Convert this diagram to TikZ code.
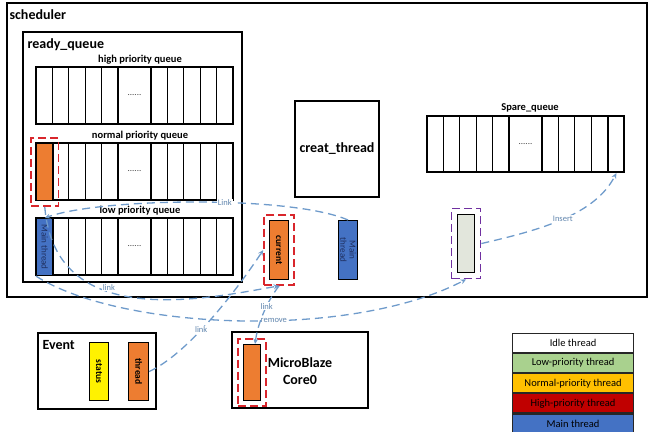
\documentclass[tikz,border=0pt]{standalone}
\usepackage{fontspec,graphicx}
\setmainfont{Carlito}
\usetikzlibrary{arrows.meta,positioning,fit}
\definecolor{threadorange}{HTML}{ED7D31}
\definecolor{mainblue}{HTML}{4472C4}
\definecolor{navytext}{HTML}{1F2F5F}
\definecolor{idlegrey}{HTML}{E2E6DC}
\definecolor{framered}{HTML}{D9262C}
\definecolor{framepurple}{HTML}{7030A0}
\definecolor{linkblue}{HTML}{6F9BCB}
\definecolor{labelblue}{HTML}{6186AE}
\definecolor{lowgreen}{HTML}{A9D18E}
\definecolor{normalgold}{HTML}{FFC000}
\definecolor{highred}{HTML}{C00000}

\begin{document}
\begin{tikzpicture}[x=1pt,y=-1pt,line width=1.1pt,
  cell/.style={draw,anchor=north west,inner sep=0pt,minimum width=16.4pt,minimum height=57pt},
  thread/.style={draw,anchor=north west,inner sep=0pt,minimum width=19pt,minimum height=59pt,font=\fontsize{9.5}{10}\selectfont\bfseries},
  redframe/.style={draw=framered,line width=1.5pt,dash pattern=on 8pt off 4pt,inner sep=5pt},
  purpleframe/.style={draw=framepurple,line width=1.5pt,dash pattern=on 8pt off 4pt,inner sep=5.5pt},
  link/.style={draw=linkblue,line width=1.3pt,dash pattern=on 8pt off 5pt,-{Stealth[length=5.5pt,width=5pt]}},
  linklabel/.style={fill=white,inner sep=1pt,text=labelblue,font=\fontsize{8.5}{9}\selectfont},
  title/.style={anchor=north west,inner sep=0pt,font=\fontsize{14}{16}\selectfont\bfseries},
  qtitle/.style={inner sep=0pt,font=\fontsize{10.5}{12}\selectfont\bfseries},
  dots/.style={inner sep=0pt,font=\fontsize{9}{10}\selectfont,text=black!75},
  legend/.style={draw=black!85,fill=#1,minimum width=121pt,minimum height=19pt,inner sep=0pt,font=\fontsize{10.5}{12}\selectfont}]
\path[use as bounding box] (0,0) rectangle (650,431);
\draw (7,3) rectangle (647,297);
\node[title] at (9,9) {scheduler};
\draw (23,32) rectangle (242,282);
\node[title] at (27,38.5) {ready\_queue};
\node[qtitle] at (140,60) {high priority queue};
\draw (36,67) rectangle (233,124);
\draw (52.4,67) -- (52.4,124) (68.8,67) -- (68.8,124) (85.2,67) -- (85.2,124) (101.6,67) -- (101.6,124) (118,67) -- (118,124) (151,67) -- (151,124) (167.4,67) -- (167.4,124) (183.8,67) -- (183.8,124) (200.2,67) -- (200.2,124) (216.6,67) -- (216.6,124);
\node[dots] at (134.5,95) {......};
\node[qtitle] at (140,136) {normal priority queue};
\draw (36,143) rectangle (233,200);
\draw (52.4,143) -- (52.4,200) (68.8,143) -- (68.8,200) (85.2,143) -- (85.2,200) (101.6,143) -- (101.6,200) (118,143) -- (118,200) (151,143) -- (151,200) (167.4,143) -- (167.4,200) (183.8,143) -- (183.8,200) (200.2,143) -- (200.2,200) (216.6,143) -- (216.6,200);
\node[dots] at (134.5,171) {......};
\node[qtitle] at (140,211) {low priority queue};
\draw (36,218) rectangle (233,275);
\draw (52.4,218) -- (52.4,275) (68.8,218) -- (68.8,275) (85.2,218) -- (85.2,275) (101.6,218) -- (101.6,275) (118,218) -- (118,275) (151,218) -- (151,275) (167.4,218) -- (167.4,275) (183.8,218) -- (183.8,275) (200.2,218) -- (200.2,275) (216.6,218) -- (216.6,275);
\node[dots] at (134.5,246) {......};
\node[cell,fill=threadorange] (nthread) at (36,143) {};
\node[redframe,fit=(nthread)] (nframe) {};
\node[cell,fill=mainblue,text=navytext,font=\fontsize{9}{10}\selectfont] (lmain) at (36,218) {\rotatebox{-90}{Main thread}};
\node[draw,minimum width=84pt,minimum height=96pt,font=\fontsize{14}{16}\selectfont\bfseries] (creat) at (337,149) {creat\_thread};
\node[qtitle] at (530,108) {Spare\_queue};
\draw (427,116) rectangle (624,172);
\draw (443.4,116) -- (443.4,172) (459.8,116) -- (459.8,172) (476.2,116) -- (476.2,172) (492.6,116) -- (492.6,172) (509,116) -- (509,172) (542,116) -- (542,172) (558.4,116) -- (558.4,172) (574.8,116) -- (574.8,172) (591.2,116) -- (591.2,172) (607.6,116) -- (607.6,172);
\node[dots] at (525.5,144) {......};
\node[cell,minimum height=56pt] (spare11) at (607.6,116) {};
\node[thread,fill=threadorange] (cur) at (269,220) {\rotatebox{-90}{current}};
\node[redframe,fit=(cur)] (curframe) {};
\node[thread,fill=mainblue,text=navytext,font=\fontsize{9}{10}\selectfont] (smain) at (338,220) {\rotatebox{-90}{\shortstack{Main\\thread}}};
\node[thread,fill=idlegrey,minimum width=17pt,minimum height=58pt] (idle) at (457,214) {};
\node[purpleframe,fit=(idle)] (idleframe) {};
\draw (38,333) rectangle (156,409);
\node[title] at (42,340) {Event};
\node[thread,fill=yellow,minimum height=58pt] (status) at (89,342) {\rotatebox{-90}{status}};
\node[thread,fill=threadorange,minimum width=20pt,minimum height=58pt] (ethread) at (128,342) {\rotatebox{-90}{thread}};
\draw (232,332) rectangle (368,408);
\node[align=center,inner sep=0pt,font=\fontsize{14}{17}\selectfont\bfseries] (core) at (300,371) {MicroBlaze\\Core0};
\node[thread,fill=threadorange,minimum width=17pt,minimum height=56pt] (mbthread) at (243,344) {};
\node[redframe,fit=(mbthread)] (mbframe) {};
\node[legend=white,anchor=north west] (idlekey) at (512,333) {Idle thread};
\node[legend=lowgreen,below=0pt of idlekey] (lowkey) {Low-priority thread};
\node[legend=normalgold,below=0pt of lowkey] (normalkey) {Normal-priority thread};
\node[legend=highred,below=0pt of normalkey] (highkey) {High-priority thread};
\node[legend=mainblue,below=0pt of highkey] (mainkey) {Main thread};
\draw[link] (nframe.south) .. controls (55,330) and (200,300) .. node[linklabel,pos=0.4,above]{link} (curframe.south);
\draw[link] (smain.north) .. controls (290,195) and (100,198) .. node[linklabel,pos=0.42]{Link} (lmain.north);
\draw[link] (lmain.south west) .. controls (120,330) and (350,340) .. node[linklabel,pos=0.57]{remove} (idleframe.south);
\draw[link] (ethread.east) .. controls (185,355) and (230,300) .. node[linklabel,pos=0.45]{link} (curframe.west);
\draw[link] (curframe.south) .. controls (268,300) and (258,322) .. node[linklabel,pos=0.4]{link} ([xshift=3pt]mbthread.north);
\draw[link] (idleframe.east) .. controls (540,230) and (595,215) .. node[linklabel,pos=0.5]{Insert} (spare11.south);
\end{tikzpicture}
\end{document}
